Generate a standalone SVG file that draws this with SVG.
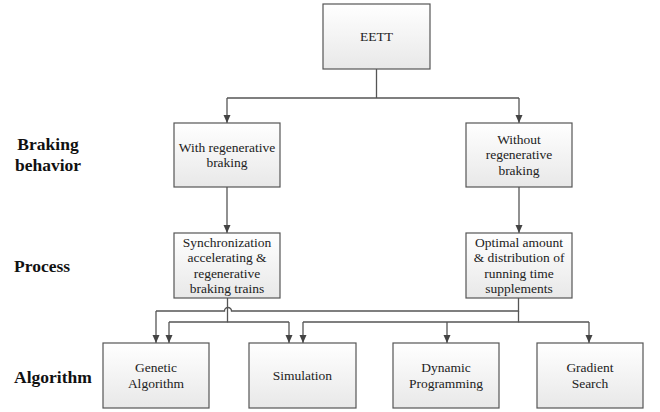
<svg xmlns="http://www.w3.org/2000/svg" width="660" height="412" viewBox="0 0 660 412">
<style>
.box{fill:url(#g);stroke:#555;stroke-width:1.2}
.t{font-family:'Liberation Serif','Times New Roman','DejaVu Serif',serif;font-size:13.5px;fill:#222;text-anchor:middle}
.lb{font-family:'Liberation Serif','Times New Roman','DejaVu Serif',serif;font-size:17.5px;font-weight:bold;fill:#111}
.c{fill:none;stroke:#555;stroke-width:1.3}
.a{marker-end:url(#ar)}
</style>
<defs>
<linearGradient id="g" x1="0" y1="0" x2="0" y2="1">
<stop offset="0" stop-color="#ffffff"/>
<stop offset="1" stop-color="#e8e8e8"/>
</linearGradient>
<marker id="ar" viewBox="0 0 8 8" markerWidth="8" markerHeight="8" refX="8" refY="4" orient="auto" markerUnits="userSpaceOnUse">
<path d="M0,0.5 L8,4 L0,7.5 z" fill="#444"/>
</marker>
</defs>
<g id="labels">
<text class="lb" x="48" y="150" text-anchor="middle">Braking</text>
<text class="lb" x="48" y="171" text-anchor="middle">behavior</text>
<text class="lb" x="14" y="272">Process</text>
<text class="lb" x="14" y="383">Algorithm</text>
</g>
<g id="connectors">
<path class="c" d="M376.5,69 V98"/>
<path class="c" d="M227,98 H519"/>
<path class="c a" d="M227,98 V123"/>
<path class="c a" d="M519,98 V123"/>
<path class="c a" d="M227,187 V233"/>
<path class="c a" d="M519,187 V233"/>
<path class="c" d="M227.5,298 V322 H169"/>
<path class="c a" d="M169,322 V343"/>
<path class="c" d="M227.5,322 H289"/>
<path class="c a" d="M289,322 V343"/>
<path class="c" d="M518.5,298 V311 H231.5 A3.5,3.5 0 0 0 224.5,311 H156"/>
<path class="c a" d="M156,311 V343"/>
<path class="c" d="M518.5,311 V322 H303"/>
<path class="c a" d="M303,322 V343"/>
<path class="c" d="M518.5,322 H589"/>
<path class="c a" d="M447,322 V343"/>
<path class="c a" d="M589,322 V343"/>
</g>
<g id="eett">
<rect class="box" x="323" y="4" width="107" height="65"/>
<text class="t" x="376.5" y="41">EETT</text>
</g>
<g id="with-regen">
<rect class="box" x="174" y="123" width="106" height="64"/>
<text class="t" x="227" y="151.5">With regenerative</text>
<text class="t" x="227" y="167">braking</text>
</g>
<g id="without-regen">
<rect class="box" x="466" y="123" width="106" height="64"/>
<text class="t" x="519" y="143.5">Without</text>
<text class="t" x="519" y="159">regenerative</text>
<text class="t" x="519" y="174.5">braking</text>
</g>
<g id="sync">
<rect class="box" x="174" y="233" width="106" height="65"/>
<text class="t" x="227" y="246.5">Synchronization</text>
<text class="t" x="227" y="262">accelerating &amp;</text>
<text class="t" x="227" y="277.5">regenerative</text>
<text class="t" x="227" y="293">braking trains</text>
</g>
<g id="optimal">
<rect class="box" x="466" y="233" width="106" height="65"/>
<text class="t" x="519" y="246.5">Optimal amount</text>
<text class="t" x="519" y="262">&amp; distribution of</text>
<text class="t" x="519" y="277.5">running time</text>
<text class="t" x="519" y="293">supplements</text>
</g>
<g id="genetic">
<rect class="box" x="103" y="343" width="106" height="65"/>
<text class="t" x="156" y="372">Genetic</text>
<text class="t" x="156" y="387.5">Algorithm</text>
</g>
<g id="simulation">
<rect class="box" x="249" y="343" width="107" height="65"/>
<text class="t" x="302.5" y="380">Simulation</text>
</g>
<g id="dynamic">
<rect class="box" x="393" y="343" width="106" height="65"/>
<text class="t" x="446" y="372">Dynamic</text>
<text class="t" x="446" y="387.5">Programming</text>
</g>
<g id="gradient">
<rect class="box" x="537" y="343" width="106" height="65"/>
<text class="t" x="590" y="372">Gradient</text>
<text class="t" x="590" y="387.5">Search</text>
</g>
</svg>
